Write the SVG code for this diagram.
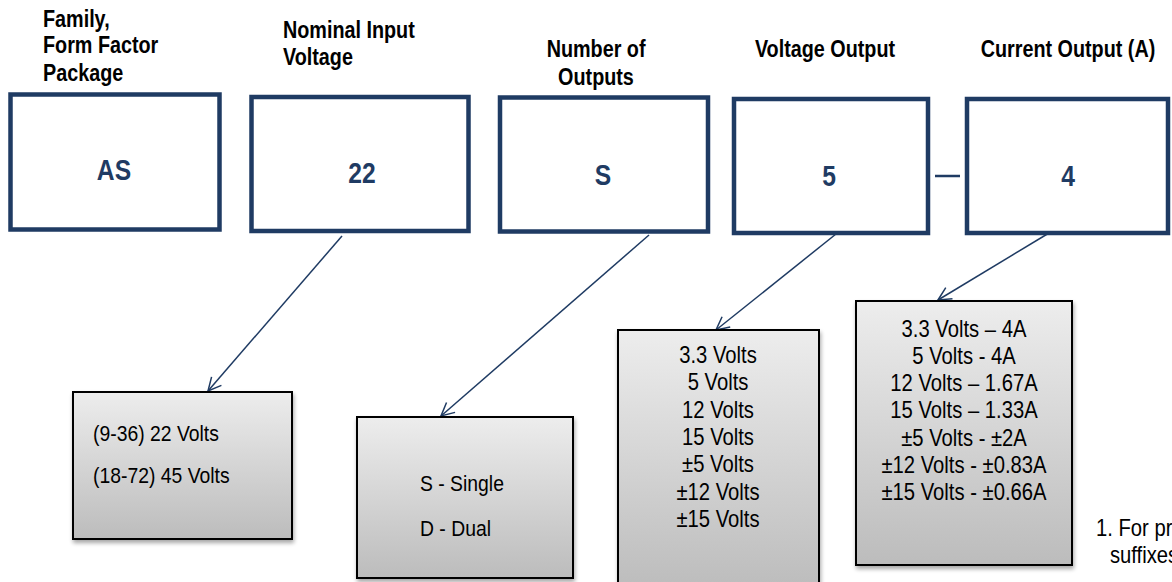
<svg xmlns="http://www.w3.org/2000/svg" width="1172" height="582" viewBox="0 0 1172 582">
<defs>
<linearGradient id="g" x1="0" y1="0" x2="0" y2="1">
<stop offset="0" stop-color="#ededed"/>
<stop offset="1" stop-color="#bcbcbc"/>
</linearGradient>
<filter id="sh" x="-10%" y="-10%" width="125%" height="125%">
<feGaussianBlur in="SourceAlpha" stdDeviation="2"/>
<feOffset dx="1" dy="3"/>
<feComponentTransfer><feFuncA type="linear" slope="0.35"/></feComponentTransfer>
<feMerge><feMergeNode/><feMergeNode in="SourceGraphic"/></feMerge>
</filter>
<marker id="arr" markerWidth="16" markerHeight="16" refX="14" refY="8" orient="auto" markerUnits="userSpaceOnUse">
<path d="M1,1.5 L14,8 L1,14.5" fill="none" stroke="#1f3b63" stroke-width="1.5"/>
</marker>
</defs>
<style>
text{font-family:"Liberation Sans",Arial,sans-serif;transform-box:fill-box;transform-origin:left center;transform:scaleX(0.88)}
text.c{text-anchor:middle;transform-origin:center center}
.hd{font-size:23px;font-weight:bold;fill:#000;transform:scaleX(0.86)}
.top{fill:#fff;stroke:#1f3b63;stroke-width:4.5}
.big{font-size:29px;font-weight:bold;fill:#1f3b63;text-anchor:middle;transform-origin:center center;transform:scaleX(0.85)}
.opt{fill:url(#g);stroke:#000;stroke-width:2;filter:url(#sh)}
.t{font-size:23px;fill:#000}
.s{font-size:22px}
.con{stroke:#1f3b63;stroke-width:1.5;fill:none;marker-end:url(#arr)}
</style>
<g id="family">
<text class="hd" x="43" y="27">Family,</text>
<text class="hd" x="43" y="53">Form Factor</text>
<text class="hd" x="43" y="81">Package</text>
<rect class="top" x="10.5" y="94.5" width="209" height="135"/>
<text class="big" x="114" y="180">AS</text>
</g>
<g id="input">
<text class="hd" x="283" y="38">Nominal Input</text>
<text class="hd" x="283" y="65">Voltage</text>
<rect class="top" x="251.5" y="97" width="217" height="134"/>
<text class="big" x="362" y="183">22</text>
</g>
<g id="outputs">
<text class="hd c" x="596" y="57">Number of</text>
<text class="hd c" x="596" y="85">Outputs</text>
<rect class="top" x="500" y="97.5" width="208" height="134"/>
<text class="big" x="603" y="185">S</text>
</g>
<g id="vout">
<text class="hd c" x="825" y="57">Voltage Output</text>
<rect class="top" x="734" y="99" width="194" height="134"/>
<text class="big" x="829" y="186">5</text>
</g>
<g id="dash">
<line x1="935" y1="176" x2="960" y2="176" stroke="#1f3b63" stroke-width="2.5"/>
</g>
<g id="iout">
<text class="hd c" x="1068" y="57">Current Output (A)</text>
<rect class="top" x="967" y="99" width="201" height="134"/>
<text class="big" x="1068" y="186">4</text>
</g>
<g id="connectors">
<line class="con" x1="342" y1="236" x2="208" y2="391"/>
<line class="con" x1="649" y1="235" x2="441" y2="416"/>
<line class="con" x1="836" y1="234" x2="716" y2="330"/>
<line class="con" x1="1049" y1="233" x2="938" y2="300"/>
</g>
<g id="opt-input">
<rect class="opt" x="73" y="392" width="219" height="147"/>
<text class="t s" x="93" y="441">(9-36) 22 Volts</text>
<text class="t s" x="93" y="483">(18-72) 45 Volts</text>
</g>
<g id="opt-outputs">
<rect class="opt" x="357" y="417" width="216" height="161"/>
<text class="t s" x="420" y="491">S - Single</text>
<text class="t s" x="420" y="536">D - Dual</text>
</g>
<g id="opt-vout">
<rect class="opt" x="618" y="330" width="201" height="260"/>
<text class="t c" x="718" y="363">3.3 Volts</text>
<text class="t c" x="718" y="390">5 Volts</text>
<text class="t c" x="718" y="418">12 Volts</text>
<text class="t c" x="718" y="445">15 Volts</text>
<text class="t c" x="718" y="472">±5 Volts</text>
<text class="t c" x="718" y="500">±12 Volts</text>
<text class="t c" x="718" y="527">±15 Volts</text>
</g>
<g id="opt-iout">
<rect class="opt" x="856" y="301" width="216" height="264"/>
<text class="t c" x="964" y="337">3.3 Volts – 4A</text>
<text class="t c" x="964" y="364">5 Volts - 4A</text>
<text class="t c" x="964" y="391">12 Volts – 1.67A</text>
<text class="t c" x="964" y="418">15 Volts – 1.33A</text>
<text class="t c" x="964" y="446">±5 Volts - ±2A</text>
<text class="t c" x="964" y="473">±12 Volts - ±0.83A</text>
<text class="t c" x="964" y="500">±15 Volts - ±0.66A</text>
</g>
<g id="footnote">
<text class="t" x="1096" y="536">1. For pr</text>
<text class="t" x="1110" y="563">suffixes</text>
</g>
</svg>
